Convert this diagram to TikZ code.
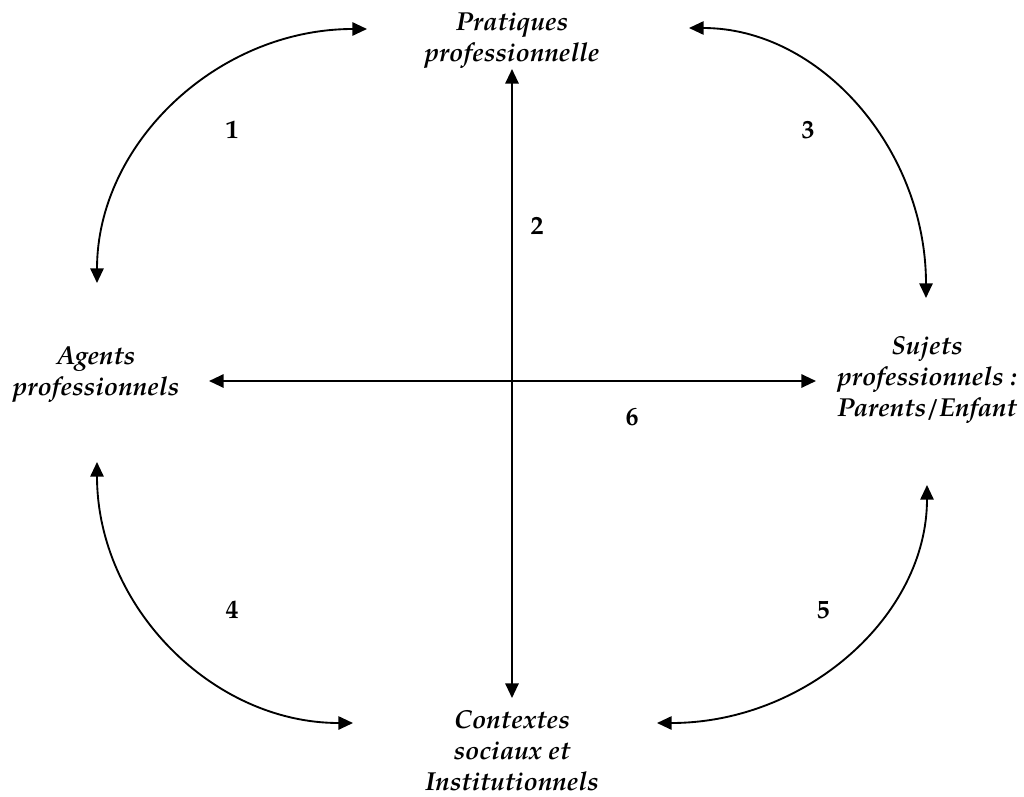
\documentclass[tikz,border=0pt]{standalone}
\usepackage{fontspec}
\setmainfont{TeX Gyre Pagella}
\usetikzlibrary{arrows.meta}
\begin{document}
\begin{tikzpicture}[x=0.75pt,y=-0.75pt,
  lab/.style={font=\fontsize{19.5pt}{23.25pt}\selectfont\bfseries\itshape, align=center, inner sep=0pt, anchor=base},
  num/.style={font=\fontsize{19.5pt}{24pt}\selectfont\bfseries, inner sep=0pt},
  tip/.style={{Triangle[length=11pt,width=10pt]}-{Triangle[length=11pt,width=10pt]}},
  axis/.style={tip, line width=1.5pt},
  bow/.style={tip, line width=1.4pt}]
\path[use as bounding box] (0,0) rectangle (1024,796);
% labels (anchor = baseline of the last line)
\node[lab] (prat) at (512,61) {Pratiques\\professionnelle};
\node[lab] (agents) at (96,395) {Agents\\professionnels};
\node[lab] (sujets) at (927,416) {Sujets\\professionnels :\\Parents/Enfant};
\node[lab] (cont) at (512,790) {Contextes\\sociaux et\\Institutionnels};
% numbers
\node[num] (n1) at (232,130) {1};
\node[num] (n2) at (537,226) {2};
\node[num] (n3) at (808,130) {3};
\node[num] (n4) at (232,610) {4};
\node[num] (n5) at (823,610) {5};
\node[num] (n6) at (632,417) {6};
% connector ends
\coordinate (vt) at (512,69);
\coordinate (vb) at (512,698);
\coordinate (hl) at (209,381);
\coordinate (hr) at (816,381);
\coordinate (a1s) at (97,283);
\coordinate (a1e) at (367,29);
\coordinate (a3s) at (689,28);
\coordinate (a3e) at (926,298);
\coordinate (a4s) at (97,462);
\coordinate (a4e) at (353,723);
\coordinate (a5s) at (927,485);
\coordinate (a5e) at (657,723);
% axes
\draw[axis] (vt) -- (vb);
\draw[axis] (hl) -- (hr);
% arcs
\draw[bow] (a1s) .. controls +(0,-140) and +(-149,0) .. (a1e);
\draw[bow] (a3s) .. controls +(131,0) and +(0,-149) .. (a3e);
\draw[bow] (a4s) .. controls +(0,144) and +(-141,0) .. (a4e);
\draw[bow] (a5s) .. controls +(0,131) and +(149,0) .. (a5e);
\end{tikzpicture}
\end{document}
